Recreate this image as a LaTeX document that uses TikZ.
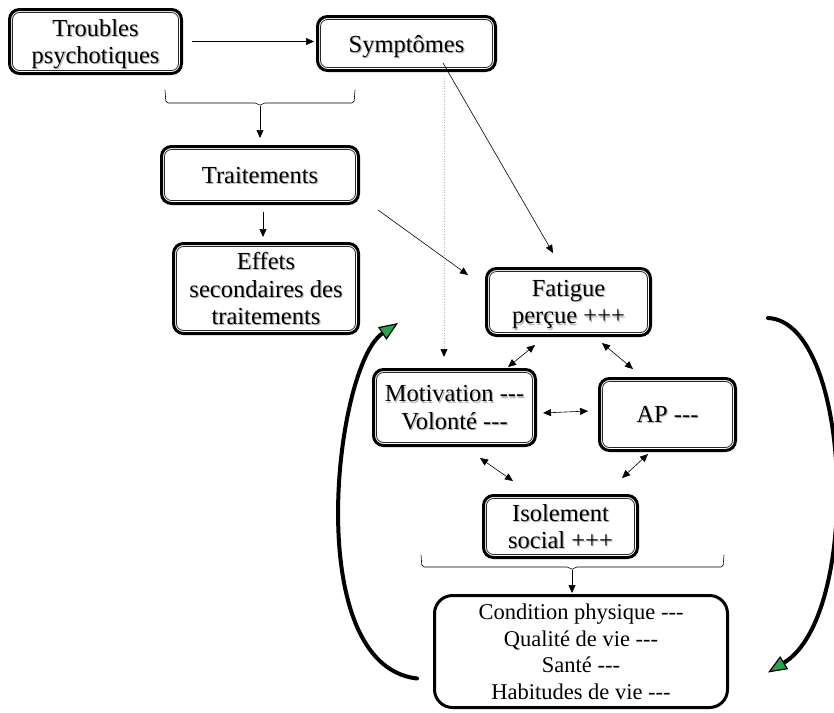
\documentclass[tikz,border=0pt]{standalone}
\usepackage{fontspec}
\setmainfont{Liberation Serif}[Ligatures=TeXOff]
\usetikzlibrary{arrows.meta}
\definecolor{vertfleche}{RGB}{40,165,75}
% texte avec ombre grise
\newcommand{\ombre}[1]{\makebox[0pt][l]{\hspace{1.2pt}\raisebox{-1.2pt}{\textcolor{black!28}{#1}}}#1}
\tikzset{
  boite/.style={draw, line width=3pt, rounded corners=10pt, fill=white, align=center,
    font=\fontsize{24.5}{27.5}\selectfont, inner sep=2pt, text depth=0pt},
  filet/.style={line width=0.8pt, draw=black!85, rounded corners=7pt},
  fleche/.style={line width=0.6pt, -{Triangle[length=8pt,width=7pt]}},
  dfleche/.style={line width=0.6pt, {Triangle[length=8pt,width=7pt]}-{Triangle[length=8pt,width=7pt]}},
  accolade/.style={line width=0.6pt, rounded corners=2pt},
  boucle/.style={line width=4pt, line cap=round,
    -{Triangle[length=19pt,width=15pt,fill=vertfleche,line width=1.2pt]}},
}
\begin{document}
\begin{tikzpicture}[x=1pt,y=-1pt]
        \useasboundingbox (0,0) rectangle (834,712);
        % Boites
        \node[boite, minimum width=172pt, minimum height=64pt] (troubles) at (95.5,41.5) {\ombre{Troubles}\\\ombre{psychotiques}};
        \node[boite, minimum width=178pt, minimum height=54pt] (sympt) at (406.5,43.5) {\ombre{Symptômes}};
        \node[boite, minimum width=197pt, minimum height=57pt] (trait) at (260,175) {\ombre{Traitements}};
        \node[boite, minimum width=185pt, minimum height=90pt] (effets) at (266,288.5) {\ombre{Effets}\\\ombre{secondaires des}\\\ombre{traitements}};
        \node[boite, minimum width=164pt, minimum height=67pt] (fatigue) at (568.5,302) {\ombre{Fatigue}\\\ombre{perçue +++}};
        \node[boite, minimum width=162pt, minimum height=76pt] (motiv) at (454.5,407.5) {\ombre{Motivation ---}\\\ombre{Volonté ---}};
        \node[boite, minimum width=136pt, minimum height=72pt] (ap) at (667.5,414.5) {\ombre{AP ---}};
        \node[boite, minimum width=154pt, minimum height=62pt] (isol) at (560.5,526.5) {\ombre{Isolement}\\\ombre{social +++}};
        \node[boite, rounded corners=18pt, font=\fontsize{22.5}{26.5}\selectfont, minimum width=293pt, minimum height=112pt] (cond) at (581,651.5)
          {Condition physique ---\\Qualité de vie ---\\Santé ---\\Habitudes de vie ---};
        % Filet intérieur des boites
        \foreach \n in {troubles,sympt,trait,effets,fatigue,motiv,ap,isol}
          \draw[filet] ([shift={(4.5,4.5)}]\n.north west) rectangle ([shift={(-4.5,-4.5)}]\n.south east);
        % Accolade du haut
        \draw[accolade] (165,90) -- (166,103) -- (257,103) -- (260,106) -- (263,103) -- (354,103) -- (355,90);
        \coordinate (acc1) at (260,106);
        \draw[fleche, shorten >=7pt] (acc1) -- (acc1 |- trait.north);
        % Accolade du bas
        \draw[accolade] (421,555) -- (422,567) -- (569,567) -- (572,570) -- (575,567) -- (723,567) -- (724,555);
        \coordinate (acc2) at (572,570);
        \draw[fleche, shorten >=1pt] (acc2) -- (acc2 |- cond.north);
        % Flèches simples
        \draw[fleche, shorten <=9pt, shorten >=2pt] (troubles.east) -- (troubles.east -| sympt.west);
        \draw[fleche, shorten <=7pt, shorten >=5pt] ([xshift=3pt]trait.south) -- ([xshift=3pt]trait.south |- effets.north);
        \draw[fleche] ([shift={(18,5)}]trait.south east) -- ([shift={(-17,8)}]fatigue.north west);
        \draw[fleche] ([shift={(36.5,-9)}]sympt.south) -- ([shift={(-15.5,-14)}]fatigue.north);
        \draw[fleche, draw=black!30, dotted, -{Triangle[length=8pt,width=7pt,black]}] ([shift={(37.5,6)}]sympt.south) -- ([shift={(-10.5,-11)}]motiv.north);
        % Flèches doubles
        \draw[dfleche] ([shift={(53.5,-1)}]motiv.north) -- ([shift={(-33.5,8)}]fatigue.south);
        \draw[dfleche] ([shift={(33.5,6)}]fatigue.south) -- ([shift={(-34.5,-8)}]ap.north);
        \draw[dfleche] ([shift={(6,5.5)}]motiv.east) -- ([shift={(-10,-3.5)}]ap.west);
        \draw[dfleche] ([shift={(25.5,11)}]motiv.south) -- ([shift={(-47.5,-13)}]isol.north);
        \draw[dfleche] ([shift={(-19.5,2)}]ap.south) -- ([shift={(61.5,-16)}]isol.north);
        % Boucles
        \coordinate (depart) at (768,318);
        \draw[boucle] (depart) .. controls (852,322) and (862,615) .. ([shift={(39,21)}]cond.east);
        \coordinate (retour) at (398,323);
        \draw[boucle] ([shift={(-16,27)}]cond.west) .. controls (300,665) and (335,365) .. (retour);
\end{tikzpicture}
\end{document}
